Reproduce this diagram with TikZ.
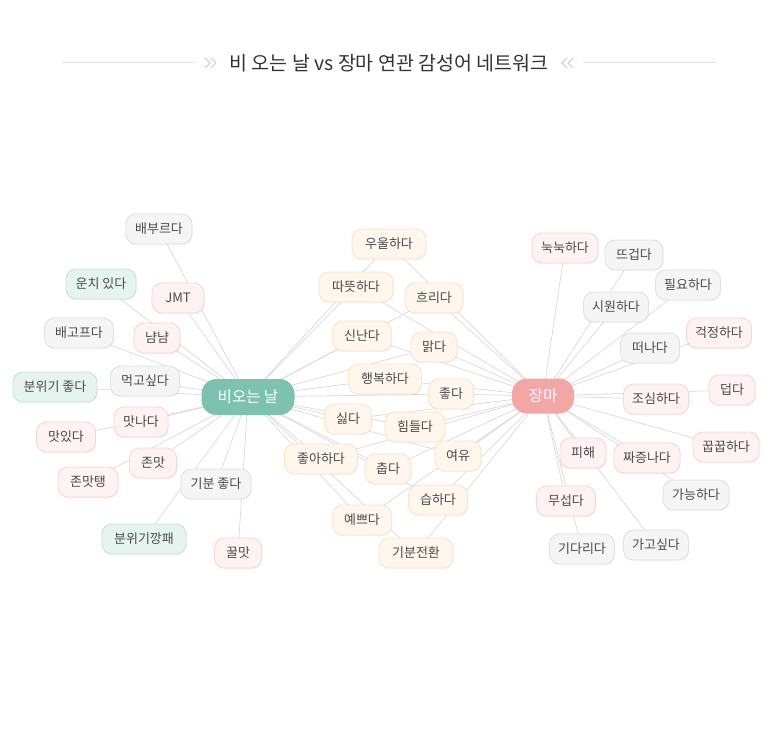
\documentclass[tikz,border=0pt]{standalone}
\usepackage{fontspec}
\setmainfont{Noto Sans CJK KR}
\usetikzlibrary{shadows}
\definecolor{edgec}{HTML}{DADADA}
\definecolor{textc}{HTML}{4A4A4A}
\definecolor{titlec}{HTML}{333333}
\definecolor{grayf}{HTML}{F5F5F5}
\definecolor{grayd}{HTML}{E1E1E1}
\definecolor{pinkf}{HTML}{FFF2F2}
\definecolor{pinkd}{HTML}{FAD4D4}
\definecolor{mintf}{HTML}{E6F4F0}
\definecolor{mintd}{HTML}{C4E2D9}
\definecolor{creamf}{HTML}{FFF7EE}
\definecolor{creamd}{HTML}{FCE3C4}
\definecolor{rainc}{HTML}{7DC2AE}
\definecolor{jangc}{HTML}{F2A6A6}
\definecolor{linec}{HTML}{E3E3E3}
\definecolor{chevc}{HTML}{C9C9C9}
\pgfdeclarelayer{back}
\pgfdeclarelayer{bg}
\pgfsetlayers{back,bg,main}
\begin{document}
\begin{tikzpicture}[x=1pt,y=-1pt,
  word/.style={rounded corners=10pt, minimum height=30pt, inner xsep=0pt, inner ysep=0pt,
    line width=0.9pt, text=textc, font=\fontsize{13}{13}\selectfont,
    drop shadow={shadow xshift=0.7pt, shadow yshift=-1.2pt, opacity=0.08}},
  gw/.style={word, fill=grayf, draw=grayd},
  pw/.style={word, fill=pinkf, draw=pinkd},
  mw/.style={word, fill=mintf, draw=mintd},
  cw/.style={word, fill=creamf, draw=creamd},
  hub/.style={rounded corners=15pt, minimum height=35pt, inner xsep=0pt, inner ysep=0pt,
    text=white, font=\fontsize{15.5}{15.5}\selectfont},
  edge/.style={draw=edgec, line width=0.7pt},
  titleline/.style={draw=linec, line width=1pt},
  chev/.style={draw=chevc, line width=0.8pt}
]
\begin{pgfonlayer}{back}
\fill[white] (0,0) rectangle (778,730);
\end{pgfonlayer}
\useasboundingbox (0,0) rectangle (778,730);

% title
\node[font=\fontsize{19.5}{19.5}\selectfont, text=titlec] (title) at (389,63) {비 오는 날 vs 장마 연관 감성어 네트워크};
\draw[titleline] (62,63) -- (195,63);
\draw[titleline] (583,63) -- (716,63);
\draw[chev] (205,58) -- (210,63) -- (205,68);
\draw[chev] (211,58) -- (216,63) -- (211,68);
\draw[chev] (573,58) -- (568,63) -- (573,68);
\draw[chev] (567,58) -- (562,63) -- (567,68);

% hubs
\node[hub, fill=rainc, minimum width=93pt, minimum height=36pt] (rain) at (248,397) {비오는 날};
\node[hub, fill=jangc, minimum width=62pt] (jang) at (543,396) {장마};

% left words
\node[gw, minimum width=66pt] (bb) at (159,229) {배부르다};
\node[mw, minimum width=70pt] (uc) at (101,284) {운치 있다};
\node[pw, minimum width=52pt] (jmt) at (178,298) {JMT};
\node[gw, minimum width=69pt] (bg) at (79,333) {배고프다};
\node[pw, minimum width=46pt] (nn) at (157,338) {냠냠};
\node[mw, minimum width=84pt] (bw) at (55,387) {분위기 좋다};
\node[gw, minimum width=69pt] (mg) at (145,381) {먹고싶다};
\node[pw, minimum width=54pt] (mn) at (141,422) {맛나다};
\node[pw, minimum width=59pt] (mi) at (66,437) {맛있다};
\node[pw, minimum width=47pt] (jm) at (153,463) {존맛};
\node[pw, minimum width=60pt] (jmtg) at (88,482) {존맛탱};
\node[gw, minimum width=70pt] (gjd) at (216,484) {기분 좋다};
\node[mw, minimum width=84pt] (bk) at (144,539) {분위기깡패};
\node[pw, minimum width=47pt] (km) at (238,553) {꿀맛};

% middle words
\node[cw, minimum width=74pt] (uu) at (389,244) {우울하다};
\node[cw, minimum width=74pt] (dd) at (356,287) {따뜻하다};
\node[cw, minimum width=58pt] (hr) at (434,298) {흐리다};
\node[cw, minimum width=59pt] (sn) at (362,336) {신난다};
\node[cw, minimum width=46pt] (mk) at (434,347) {맑다};
\node[cw, minimum width=73pt] (hb) at (385,379) {행복하다};
\node[cw, minimum width=45pt] (jd) at (451,394) {좋다};
\node[cw, minimum width=47pt] (sd) at (348,419) {싫다};
\node[cw, minimum width=60pt] (hd) at (415,427) {힘들다};
\node[cw, minimum width=73pt] (jah) at (321,459) {좋아하다};
\node[cw, minimum width=46pt] (yy) at (458,456) {여유};
\node[cw, minimum width=46pt] (cd) at (388,469) {춥다};
\node[cw, minimum width=59pt] (sh) at (438,500) {습하다};
\node[cw, minimum width=59pt] (yb) at (362,520) {예쁘다};
\node[cw, minimum width=74pt] (gbj) at (416,553) {기분전환};

% right words
\node[pw, minimum width=66pt] (nk) at (565,248) {눅눅하다};
\node[gw, minimum width=58pt] (tg) at (634,255) {뜨겁다};
\node[gw, minimum width=65pt] (py) at (688,285) {필요하다};
\node[gw, minimum width=65pt] (sw) at (616,307) {시원하다};
\node[pw, minimum width=65pt] (gjh) at (719,333) {걱정하다};
\node[gw, minimum width=59pt] (tn) at (650,348) {떠나다};
\node[pw, minimum width=65pt] (js) at (656,399) {조심하다};
\node[pw, minimum width=46pt] (dp) at (732,390) {덥다};
\node[pw, minimum width=66pt] (kk) at (726,447) {꿉꿉하다};
\node[pw, minimum width=46pt] (ph) at (583,453) {피해};
\node[pw, minimum width=66pt] (jj) at (647,458) {짜증나다};
\node[gw, minimum width=66pt] (gn) at (696,495) {가능하다};
\node[pw, minimum width=59pt] (ms) at (566,501) {무섭다};
\node[gw, minimum width=65pt] (gdr) at (582,549) {기다리다};
\node[gw, minimum width=65pt] (ggs) at (656,545) {가고싶다};

\begin{pgfonlayer}{bg}
\foreach \n in {bb,uc,jmt,bg,nn,bw,mg,mn,mi,jm,jmtg,gjd,bk,km}
  \draw[edge] (rain.center) -- (\n.center);
\foreach \n in {uu,dd,hr,sn,mk,hb,jd,sd,hd,jah,yy,cd,sh,yb,gbj}{
  \draw[edge] (rain.center) -- (\n.center);
  \draw[edge] (jang.center) -- (\n.center);
}
\foreach \n in {nk,tg,py,sw,gjh,tn,js,dp,kk,ph,jj,gn,ms,gdr,ggs}
  \draw[edge] (jang.center) -- (\n.center);
\end{pgfonlayer}
\end{tikzpicture}
\end{document}
